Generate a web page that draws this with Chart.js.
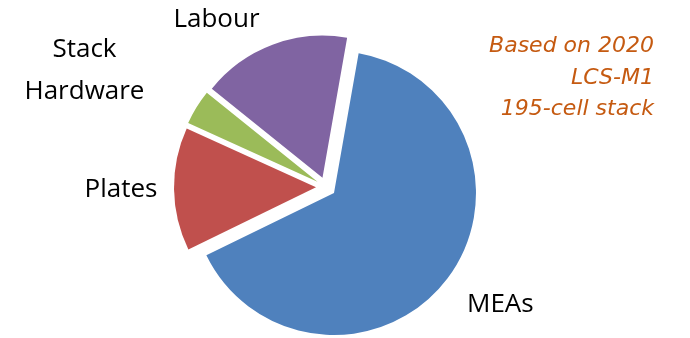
<!DOCTYPE html>
<html>
<head>
<meta charset="utf-8">
<script src="https://cdn.jsdelivr.net/npm/chart.js@4.4.1/dist/chart.umd.min.js"></script>
<style>
    html, body { margin: 0; padding: 0; background: #fff; }
    #wrap { width: 690px; height: 338px; }
</style>
</head>
<body>
<div id="wrap"><canvas id="costChart" width="690" height="338"></canvas></div>
<script>
// Stack cost breakdown (share of total, %)
const categories = ['MEAs', 'Plates', 'Stack Hardware', 'Labour'];
const costShare = [65, 14, 4, 17];
const sliceLabels = [['MEAs'], ['Plates'], ['Stack', 'Hardware'], ['Labour']];
const noteLines = ['Based on 2020', 'LCS-M1', '195-cell stack'];

const sliceColours = ['#4F81BD', '#C0504D', '#9BBB59', '#8064A2'];
// nudge of each label away from its default spot beside the slice
const labelNudge = [[21, 0], [-13, -2], [-78, -18], [-42, 10]];

const explode = 10; // every slice pulled out by this many px
const labelFont = '26px "Open Sans"';
const noteFont = 'italic 22px "DejaVu Sans"';

// Chart.js scales the arc offset by sin(circumference), which leaves the big
// slice in place, so push each arc out along its middle angle ourselves
const explodePlugin = {
    id: 'explodeSlices',
    afterUpdate(chart) {
        chart.getDatasetMeta(0).data.forEach(arc => {
            if (arc._exploded) return;
            const origDraw = arc.draw.bind(arc);
            arc.draw = function (ctx) {
                const mid = (this.startAngle + this.endAngle) / 2;
                ctx.save();
                ctx.translate(Math.cos(mid) * explode, Math.sin(mid) * explode);
                origDraw(ctx);
                ctx.restore();
            };
            arc._exploded = true;
        });
    }
};

// draws the category names next to the slices and the note in the corner
const sliceLabelPlugin = {
    id: 'sliceLabels',
    afterDatasetsDraw(chart) {
        const ctx = chart.ctx;
        const meta = chart.getDatasetMeta(0);
        ctx.save();
        ctx.font = labelFont;
        ctx.fillStyle = '#000';
        ctx.textAlign = 'center';
        ctx.textBaseline = 'alphabetic';
        meta.data.forEach((arc, i) => {
            const p = arc.getProps(['x', 'y', 'startAngle', 'endAngle', 'outerRadius'], true);
            const mid = (p.startAngle + p.endAngle) / 2;
            const dist = p.outerRadius + explode + 40;
            const cx = p.x + Math.cos(mid) * dist + labelNudge[i][0];
            const cy = p.y + Math.sin(mid) * dist + labelNudge[i][1];
            const lines = sliceLabels[i];
            const lineHeight = 42;
            const top = cy - (lines.length - 1) * lineHeight / 2;
            lines.forEach((line, j) => {
                ctx.fillText(line, cx, top + j * lineHeight + 9.5);
            });
        });

        // note, top right
        ctx.font = noteFont;
        ctx.fillStyle = '#C55A11';
        ctx.textAlign = 'right';
        noteLines.forEach((line, j) => {
            ctx.fillText(line, chart.chartArea.right + 2, 52 + j * 31.5);
        });
        ctx.restore();
    }
};

new Chart(document.getElementById('costChart'), {
    type: 'pie',
    data: {
        labels: categories,
        datasets: [{
            data: costShare,
            backgroundColor: sliceColours,
            borderWidth: 0,
            hoverOffset: 0
        }]
    },
    options: {
        responsive: false,
        animation: false,
        rotation: 10,
        radius: 142,
        layout: { padding: { left: 0, right: 38, top: 36, bottom: 0 } },
        plugins: {
            legend: { display: false },
            tooltip: { enabled: false }
        }
    },
    plugins: [explodePlugin, sliceLabelPlugin]
});
</script>
</body>
</html>
